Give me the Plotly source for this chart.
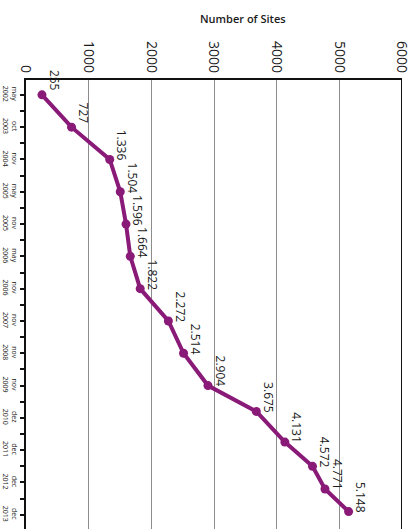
import plotly.graph_objects as go

# Survey dates along the time axis
categories = ["may<br>2002", "oct<br>2003", "nov<br>2004", "may<br>2005", "nov<br>2005",
              "may<br>2006", "nov<br>2006", "nov<br>2007", "nov<br>2008", "nov<br>2009",
              "dez<br>2010", "dec<br>2011", "dec<br>2012", "dec<br>2013"]
# Cumulative number of sites and where each count falls on the time axis
sites = [255, 727, 1336, 1504, 1596, 1664, 1822, 2272, 2514, 2904, 3675, 4131, 4572, 4771, 5148]
time_pos = [0, 1, 2, 3, 4, 5, 6, 7, 8, 9, 9.8, 10.75, 11.5, 12.2, 12.9]
value_ticks = [0, 1000, 2000, 3000, 4000, 5000, 6000]

LINE = "#891a78"
VMAX = value_ticks[-1]

fig = go.Figure()
fig.add_trace(go.Scatter(
    x=sites, y=time_pos, mode="lines+markers",
    line=dict(color=LINE, width=4),
    marker=dict(color=LINE, size=9),
    hoverinfo="skip", showlegend=False,
))

def fmt(v):
    return f"{v:,}".replace(",", ".")

annotations = [
    dict(x=v, y=p, text=fmt(v), showarrow=False, textangle=90,
         xshift=12, yshift=14, font=dict(family="Open Sans", size=12, color="#1a1a1a"))
    for v, p in zip(sites, time_pos)
]
annotations.append(dict(
    x=0.577, y=1, xref="paper", yref="paper", yshift=62, yanchor="middle",
    text="Number of Sites", showarrow=False,
    font=dict(family="Open Sans", size=11, color="#1a1a1a", weight=600),
))

fig.update_layout(
    width=413, height=529,
    margin=dict(l=26, r=11, t=80, b=0),
    paper_bgcolor="white", plot_bgcolor="white",
    annotations=annotations,
    shapes=[dict(type="line", xref="x", yref="paper", x0=VMAX, x1=VMAX, y0=0, y1=1,
                 line=dict(color="#111", width=2))],
    xaxis=dict(
        side="top", range=[0, VMAX], tickvals=value_ticks,
        ticktext=[str(t) for t in value_ticks], tickangle=90,
        tickfont=dict(family="Open Sans", size=14, color="#1a1a1a"),
        showgrid=True, gridcolor="#8c8c8c", gridwidth=1,
        showline=True, linecolor="#111", linewidth=2, zeroline=False,
        ticks="",
    ),
    yaxis=dict(
        range=[13.44, -0.46], tickvals=list(range(len(categories))), ticktext=categories,
        tickangle=90, tickfont=dict(family="Open Sans", size=7, color="#222"),
        showgrid=False, zeroline=False,
        showline=True, linecolor="#111", linewidth=2,
        ticks="outside", ticklen=4, tickcolor="#111", tickwidth=1.5,
        minor=dict(tickvals=[i + 0.5 for i in range(len(categories))],
                   ticks="outside", ticklen=4, tickcolor="#111", tickwidth=1.5),
    ),
)

fig.write_html("out.html")
